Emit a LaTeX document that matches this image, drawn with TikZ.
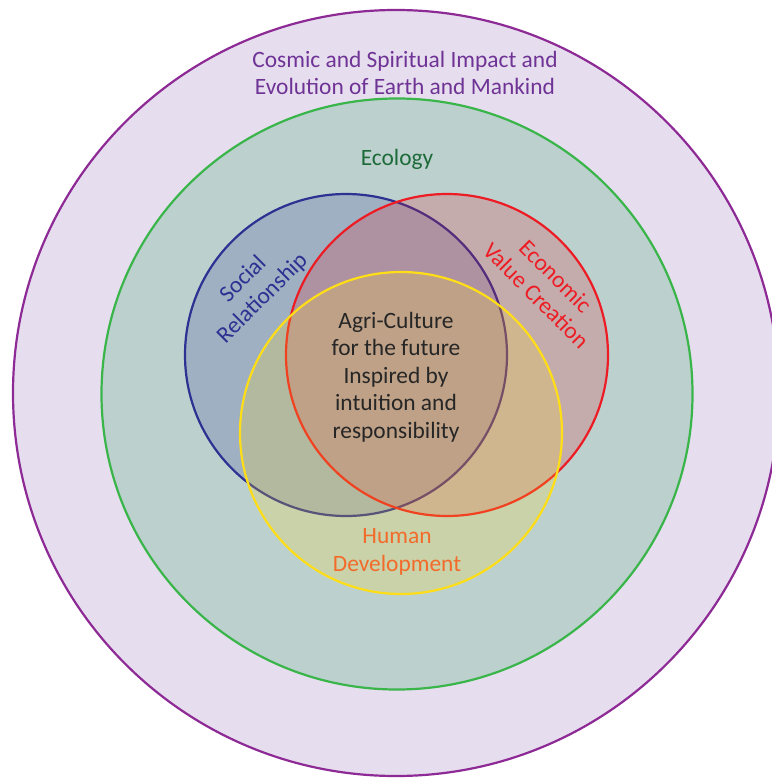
\documentclass[tikz,border=0pt]{standalone}
\usepackage{fontspec}
\setmainfont{Carlito}
\usetikzlibrary{positioning}
\definecolor{cosmicline}{HTML}{8E2A96}
\definecolor{cosmicfill}{HTML}{E6DEEE}
\definecolor{cosmictext}{HTML}{6F3396}
\definecolor{ecoline}{HTML}{3AB54A}
\definecolor{ecofill}{HTML}{BCD0CE}
\definecolor{ecotext}{HTML}{1E6B3A}
\definecolor{socialline}{HTML}{2E3192}
\definecolor{econline}{HTML}{ED1C24}
\definecolor{humanline}{HTML}{FFDE17}
\definecolor{humantext}{HTML}{F26B2B}
\tikzset{
    ring/.style = {draw, circle, line width=2.2bp, inner sep=0pt},
    petal/.style = {ring, minimum size=322bp, fill opacity=0.2},
    caption/.style = {align=center, font=\fontsize{23.5}{27.5}\selectfont},
}

\begin{document}
\begin{tikzpicture}[x=1bp, y=-1bp]
    \useasboundingbox (0,0) rectangle (772,778);

    \node (cosmic) [ring, draw=cosmicline, fill=cosmicfill, minimum size=766bp] at (396,393) {};
    \node (ecology) [ring, draw=ecoline, fill=ecofill, minimum size=591bp] at (397,394) {};

    \node (social) [petal, draw=socialline, fill=socialline] at (346,355) {};
    \node (economic) [petal, draw=econline, fill=econline] at (447,355) {};
    \node (human) [petal, draw=humanline, fill=humanline] at (401,433) {};

    \node (cosmiclabel) [caption, text=cosmictext] at (405,73) {Cosmic and Spiritual Impact and\\Evolution of Earth and Mankind};
    \node (ecolabel) [caption, text=ecotext] at (397,159) {Ecology};
    \node (sociallabel) [caption, text=socialline, rotate=45] at (253,289) {Social\\Relationship};
    \node (econlabel) [caption, text=econline, rotate=-45] at (546,286) {Economic\\Value Creation};
    \node (humanlabel) [caption, text=humantext] at (397,552) {Human\\Development};
    \node (core) [caption, text=black!85] at (396,377) {Agri-Culture\\for the future\\Inspired by\\intuition and\\responsibility};
\end{tikzpicture}
\end{document}
